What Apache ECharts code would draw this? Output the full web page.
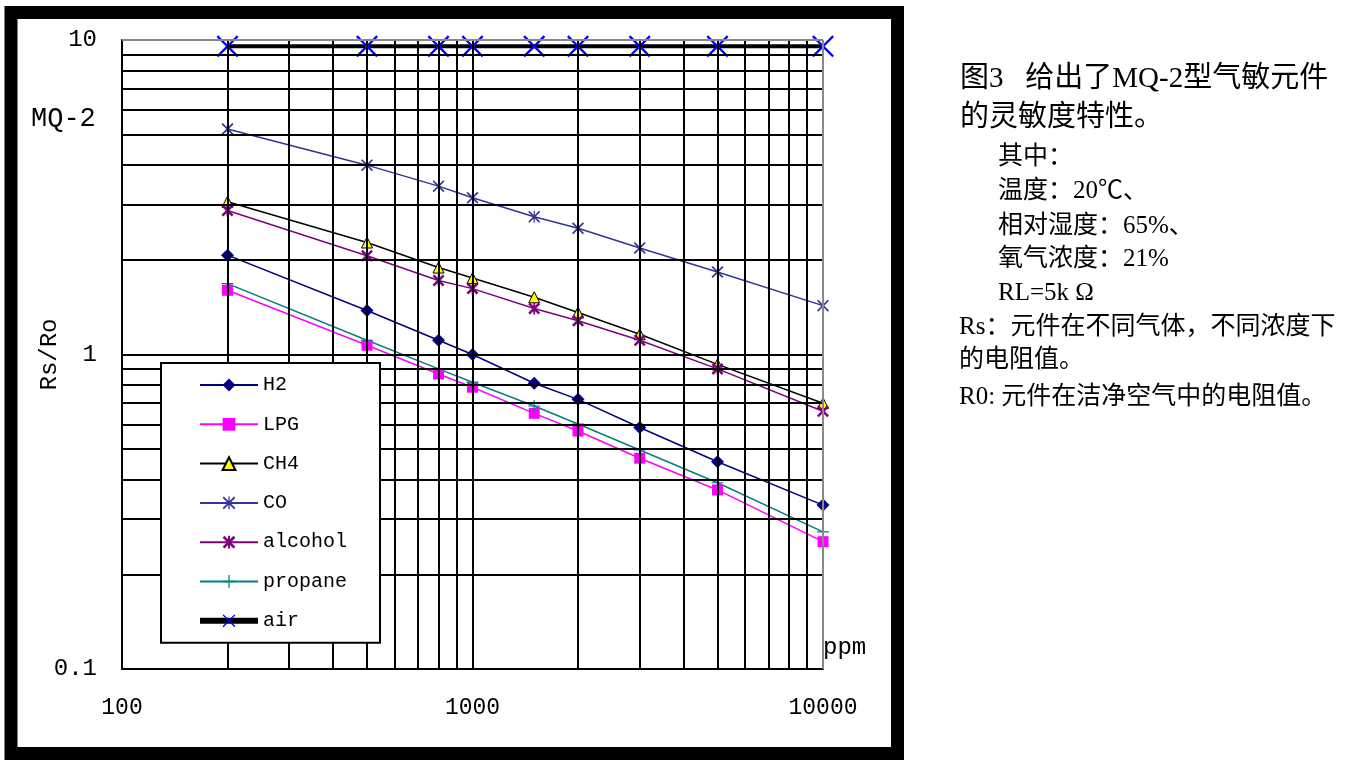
<!DOCTYPE html>
<html><head><meta charset="utf-8">
<script src="https://cdn.jsdelivr.net/npm/echarts@6/dist/echarts.min.js"></script>
<style>html,body{margin:0;padding:0;background:#fff}#c{width:1355px;height:766px}</style>
</head><body><div id="c"></div>
<script>
// ---- data ----
const ppm = [200, 500, 800, 1000, 1500, 2000, 3000, 5000, 10000];
const H2      = [2.07, 1.38, 1.11, 1.00, 0.81, 0.72, 0.586, 0.456, 0.332];
const LPG     = [1.60, 1.07, 0.867, 0.787, 0.65, 0.571, 0.468, 0.371, 0.254];
const CH4     = [3.06, 2.27, 1.89, 1.75, 1.52, 1.36, 1.16, 0.93, 0.70];
const CO      = [5.21, 4.00, 3.43, 3.15, 2.74, 2.52, 2.18, 1.83, 1.43];
const alcohol = [2.87, 2.06, 1.72, 1.62, 1.40, 1.28, 1.11, 0.90, 0.66];
const propane = [1.68, 1.11, 0.90, 0.816, 0.686, 0.601, 0.497, 0.391, 0.273];
const air     = [9.55, 9.55, 9.55, 9.55, 9.55, 9.55, 9.55, 9.55, 9.55];
const seriesNames = ['H2', 'LPG', 'CH4', 'CO', 'alcohol', 'propane', 'air'];
const xGridTicks = [200, 300, 400, 500, 600, 700, 800, 900, 1000, 2000, 3000, 4000, 5000, 6000, 7000, 8000, 9000];
const yGridTicks = [0.2, 0.3, 0.4, 0.5, 0.6, 0.7, 0.8, 0.9, 1, 2, 3, 4, 5, 6, 7, 8, 9];
const xRange = [100, 10000];
const yRange = [0.1, 10];
const noteLinesBig = ['图3   给出了MQ-2型气敏元件', '的灵敏度特性。'];
const noteLinesSmall = ['其中：', '温度：20℃、', '相对湿度：65%、', '氧气浓度：21%', 'RL=5k Ω'];
const noteLinesTail = ['Rs：元件在不同气体，不同浓度下', '的电阻值。', 'R0: 元件在洁净空气中的电阻值。'];

// ---- symbols ----
const X_PATH = 'path://M0,1.5L1.5,0L10,8.5L18.5,0L20,1.5L11.5,10L20,18.5L18.5,20L10,11.5L1.5,20L0,18.5L8.5,10Z';
const PLUS_PATH = 'path://M9,0H11V9H20V11H11V20H9V11H0V9H9Z';
const STAR_PATH = 'path://M0,2L2,0L10,8L18,0L20,2L12,10L20,18L18,20L10,12L2,20L0,18L8,10Z M9,0H11V20H9Z';
const STAR_BOLD = 'path://M0,3L3,0L10,7L17,0L20,3L13,10L20,17L17,20L10,13L3,20L0,17L7,10Z M8.5,0H11.5V20H8.5Z';

const pair = arr => ppm.map((x, i) => [x, arr[i]]);
const mono = 'Liberation Mono, DejaVu Sans Mono, monospace';
const serifCJK = "'Liberation Serif', 'Noto Sans CJK SC', serif";

const gridMarks = [];
xGridTicks.forEach(v => gridMarks.push({ xAxis: v }));
yGridTicks.forEach(v => gridMarks.push({ yAxis: v }));
gridMarks.push({ xAxis: xRange[1], lineStyle: { color: '#888', width: 2 } });
gridMarks.push({ yAxis: yRange[1], lineStyle: { color: '#888', width: 2 } });

function lineSeries(name, arr, color, symbol, size, extra) {
  return Object.assign({
    name: name, type: 'line', data: pair(arr), symbol: symbol, symbolSize: size,
    lineStyle: { color: color, width: 1.5 }, itemStyle: { color: color },
    z: 3, animation: false
  }, extra || {});
}

const graphics = [
  { type: 'rect', silent: true, shape: { x: 11, y: 12.5, width: 886.5, height: 741 },
    style: { fill: 'none', stroke: '#000', lineWidth: 13 } },
  { type: 'text', x: 31, y: 119, silent: true,
    style: { text: 'MQ-2', fontSize: 27, fontFamily: mono, fill: '#000', verticalAlign: 'middle' } },
  { type: 'text', x: 823, y: 648, silent: true,
    style: { text: 'ppm', fontSize: 24, fontFamily: mono, fill: '#000', verticalAlign: 'middle' } }
];
const bigY = [79, 118];
noteLinesBig.forEach((t, i) => graphics.push({ type: 'text', x: 960, y: bigY[i], silent: true,
  style: { text: t, fontSize: 29, fontFamily: serifCJK, fill: '#000', verticalAlign: 'middle' } }));
const smallY = [157, 191, 226, 259, 293];
noteLinesSmall.forEach((t, i) => graphics.push({ type: 'text', x: 998, y: smallY[i], silent: true,
  style: { text: t, fontSize: 25, fontFamily: serifCJK, fill: '#000', verticalAlign: 'middle' } }));
const tailY = [327, 360, 397];
noteLinesTail.forEach((t, i) => graphics.push({ type: 'text', x: 959, y: tailY[i], silent: true,
  style: { text: t, fontSize: 25, fontFamily: serifCJK, fill: '#000', verticalAlign: 'middle' } }));

const legendData = seriesNames.map(n => n === 'air' ? { name: n, lineStyle: { width: 6 } } : { name: n });

const chart = echarts.init(document.getElementById('c'));
chart.setOption({
  backgroundColor: '#fff',
  animation: false,
  grid: { left: 122, top: 40, right: 532, bottom: 97, containLabel: false },
  xAxis: {
    type: 'log', logBase: 10, min: xRange[0], max: xRange[1],
    axisLine: { show: true, lineStyle: { color: '#000', width: 2 } },
    axisTick: { show: false }, splitLine: { show: false }, minorSplitLine: { show: false },
    axisLabel: { color: '#000', fontFamily: mono, fontSize: 23, margin: 27,
      formatter: v => String(Math.round(v)) }
  },
  yAxis: {
    type: 'log', logBase: 10, min: yRange[0], max: yRange[1],
    name: 'Rs/Ro', nameLocation: 'middle', nameGap: 60, nameRotate: 90, nameMoveOverlap: false,
    nameTextStyle: { color: '#000', fontFamily: mono, fontSize: 24 },
    axisLine: { show: true, lineStyle: { color: '#000', width: 2 } },
    axisTick: { show: false }, splitLine: { show: false },
    axisLabel: { color: '#000', fontFamily: mono, fontSize: 24, margin: 25,
      formatter: v => String(Math.round(v * 10) / 10) }
  },
  legend: {
    orient: 'vertical', left: 161, top: 363, itemWidth: 58, itemHeight: 16, itemGap: 19.3,
    padding: [12, 33, 12, 36], backgroundColor: '#fff', borderColor: '#000', borderWidth: 2,
    textStyle: { fontFamily: mono, fontSize: 20, color: '#000' },
    data: legendData, selectedMode: false, z: 10
  },
  graphic: graphics,
  series: [
    { name: 'grid', type: 'line', data: [], z: 1, silent: true,
      markLine: { silent: true, symbol: ['none', 'none'], label: { show: false },
        lineStyle: { color: '#000', width: 2, type: 'solid' }, data: gridMarks, animation: false } },
    lineSeries('H2', H2, '#000080', 'diamond', 13),
    lineSeries('LPG', LPG, '#ff00ff', 'rect', 11),
    lineSeries('CH4', CH4, '#000000', 'triangle', 11,
      { itemStyle: { color: '#ffff00', borderColor: '#000', borderWidth: 1 } }),
    lineSeries('CO', CO, '#333399', STAR_PATH, 12),
    lineSeries('alcohol', alcohol, '#800080', STAR_BOLD, 12),
    lineSeries('propane', propane, '#008080', PLUS_PATH, 12),
    lineSeries('air', air, '#000000', X_PATH, 22,
      { lineStyle: { color: '#000', width: 4 }, itemStyle: { color: '#0000ff' } })
  ]
});
</script></body></html>
